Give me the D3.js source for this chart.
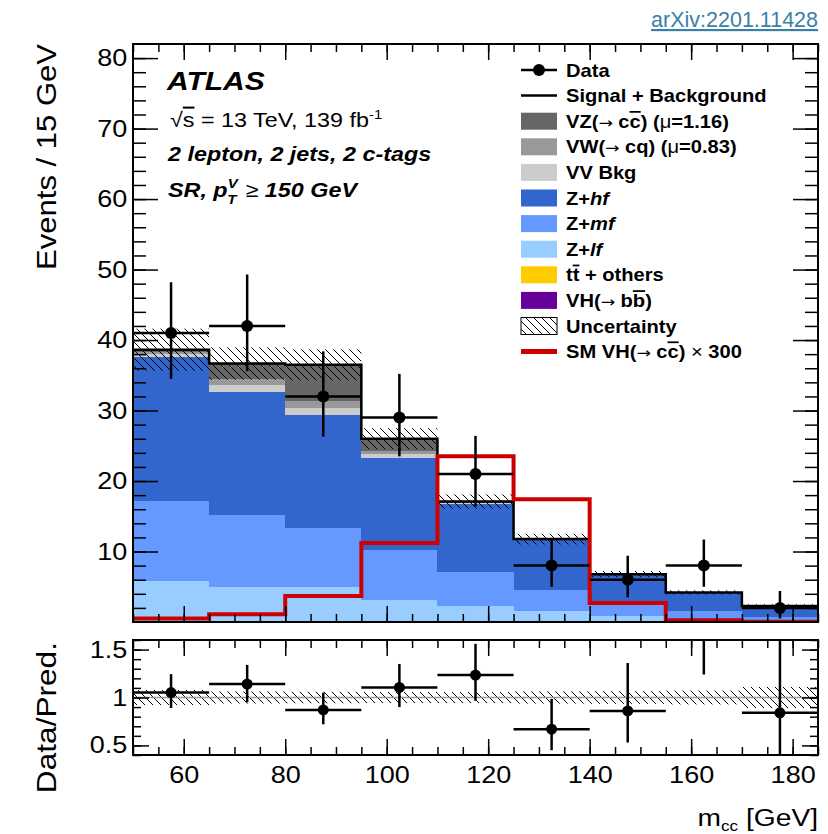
<!DOCTYPE html>
<html>
<head>
<meta charset="utf-8">
<script src="https://cdn.jsdelivr.net/npm/d3@7"></script>
<style>
  body { margin: 0; background: #fff; }
  svg { display: block; }
</style>
</head>
<body>
<div id="chart"></div>
<script>
// bin edges in m_cc [GeV]
const binEdges = [50, 65, 80, 95, 110, 125, 140, 155, 170, 185];

// observed data and its error bars (Events / 15 GeV)
const dataVals = [41, 42, 32, 29, 21, 8, 6, 8, 2];
const dataLow = [34.5, 35.6, 26.3, 23.5, 16.4, 5.0, 3.5, 5.0, 0.5];
const dataHigh = [48.2, 49.3, 38.4, 35.2, 26.4, 11.7, 9.4, 11.7, 4.4];

// stacked backgrounds, bottom to top
const ttOthers = [0.15, 0.1, 0.1, 0.1, 0.05, 0.05, 0.05, 0.05, 0.05];
const zlf = [5.65, 4.9, 4.8, 3.0, 2.15, 1.45, 0.8, 0.35, 0.15];
const zmf = [11.4, 10.2, 8.4, 7.1, 4.9, 3.0, 1.55, 1.2, 0.55];
const zhf = [20.4, 17.5, 16.0, 13.1, 9.7, 7.1, 4.3, 2.5, 1.4];
const vvBkg = [0.4, 0.95, 1.1, 0.5, 0.05, 0.03, 0.02, 0.02, 0.02];
const vwcq = [0.3, 0.8, 0.95, 0.4, 0.05, 0.03, 0.02, 0.02, 0.02];
const vzcc = [0.3, 2.2, 5.1, 1.7, 0.1, 0.05, 0.03, 0.03, 0.05];
const vhbb = [0.02, 0.02, 0.03, 0.1, 0.1, 0.05, 0.02, 0.02, 0.02];

// total uncertainty on the prediction
const predUnc = [3.0, 2.3, 2.2, 1.5, 1.0, 0.75, 0.45, 0.3, 0.25];

// SM VH(cc) x 300 overlay
const smVHcc = [0.5, 1.1, 3.7, 11.2, 23.5, 17.4, 2.7, 0.25, 0.05];

// ratio panel points
const ratioVals = [1.052, 1.14, 0.87, 1.105, 1.234, 0.67, 0.86, 1.9, 0.84];
const ratioLow = [0.89, 0.95, 0.72, 0.90, 0.965, 0.45, 0.53, 1.24, 0.2];
const ratioHigh = [1.244, 1.34, 1.05, 1.35, 1.56, 0.985, 1.36, 2.8, 1.9];

const yTicksMain = [10, 20, 30, 40, 50, 60, 70, 80];
const xTicks = [60, 80, 100, 120, 140, 160, 180];
const yTicksRatio = [0.5, 1, 1.5];

const W = 828, H = 834;
const FONT = "'Liberation Sans', Arial, Helvetica, sans-serif";
const SX = 1.15; // glyphs in the original are a bit wider than Arial

const keys = ["tt", "zlf", "zmf", "zhf", "vv", "vw", "vz", "vhbb"];
const colors = {
  tt: "#ffcc00", zlf: "#99ccff", zmf: "#6699ff", zhf: "#3366cc",
  vv: "#cccccc", vw: "#999999", vz: "#666666", vhbb: "#660099"
};

const table = binEdges.slice(0, -1).map((e, i) => ({
  lo: e, hi: binEdges[i + 1],
  tt: ttOthers[i], zlf: zlf[i], zmf: zmf[i], zhf: zhf[i],
  vv: vvBkg[i], vw: vwcq[i], vz: vzcc[i], vhbb: vhbb[i]
}));
const totals = table.map(d => keys.reduce((s, k) => s + d[k], 0));

const x = d3.scaleLinear().domain([50, 185]).range([133, 818]);
const y = d3.scaleLinear().domain([0, 82]).range([622, 44]);
const yr = d3.scaleLinear().domain([0.4, 1.6]).range([755, 640]);

const svg = d3.select("#chart").append("svg")
  .attr("width", W).attr("height", H)
  .attr("font-family", FONT);

const defs = svg.append("defs");
defs.append("pattern")
  .attr("id", "hatch")
  .attr("patternUnits", "userSpaceOnUse")
  .attr("width", 8).attr("height", 8)
  .append("path")
  .attr("d", "M0,0 L8,8 M-2,6 L2,10 M6,-2 L10,2")
  .attr("stroke", "#000").attr("stroke-width", 1);
defs.append("clipPath").attr("id", "clipMain")
  .append("rect").attr("x", 133).attr("y", 44).attr("width", 685).attr("height", 578);
defs.append("clipPath").attr("id", "clipRatio")
  .append("rect").attr("x", 133).attr("y", 640).attr("width", 685).attr("height", 115);

function addText(sel, px, py, size, opts = {}) {
  let tr = `translate(${px},${py})`;
  if (opts.rotate) tr += ` rotate(${opts.rotate})`;
  tr += ` scale(${opts.sx || SX},1)`;
  return sel.append("text")
    .attr("transform", tr)
    .attr("font-size", size)
    .attr("text-anchor", opts.anchor || "start")
    .attr("font-weight", opts.weight || "normal")
    .attr("font-style", opts.style || "normal")
    .attr("fill", opts.fill || "#000");
}

function addSegments(t, segs) {
  segs.forEach(s => {
    const ts = t.append("tspan").text(s.t);
    if (s.w) ts.attr("font-weight", s.w);
    if (s.i) ts.attr("font-style", "italic");
    if (s.n) ts.attr("font-style", "normal");
    if (s.over) ts.style("text-decoration", "overline");
    if (s.size) ts.attr("font-size", s.size);
    if (s.dy) ts.attr("dy", s.dy);
    if (s.dx) ts.attr("dx", s.dx);
    if (s.f) ts.attr("font-family", s.f);
  });
}

// ---------------- main panel ----------------
const main = svg.append("g").attr("clip-path", "url(#clipMain)");

const series = d3.stack().keys(keys)(table);
main.selectAll(".layer")
  .data(series)
  .enter()
  .append("g")
  .attr("class", "layer")
  .attr("fill", d => colors[d.key])
  .selectAll("rect")
  .data(d => d)
  .enter()
  .append("rect")
  .attr("shape-rendering", "crispEdges")
  .attr("x", d => x(d.data.lo))
  .attr("width", d => x(d.data.hi) - x(d.data.lo))
  .attr("y", d => y(d[1]))
  .attr("height", d => y(d[0]) - y(d[1]));

// uncertainty band
main.selectAll(".unc")
  .data(table)
  .enter()
  .append("rect")
  .attr("class", "unc")
  .attr("fill", "url(#hatch)")
  .attr("x", d => x(d.lo))
  .attr("width", d => x(d.hi) - x(d.lo))
  .attr("y", (d, i) => y(totals[i] + predUnc[i]))
  .attr("height", (d, i) => y(totals[i] - predUnc[i]) - y(totals[i] + predUnc[i]));

function stepPoints(vals) {
  const pts = [];
  vals.forEach((v, i) => {
    pts.push([x(binEdges[i]), y(v)]);
    pts.push([x(binEdges[i + 1]), y(v)]);
  });
  return pts;
}

// signal + background outline
main.append("path")
  .attr("d", d3.line()(stepPoints(totals)))
  .attr("fill", "none")
  .attr("stroke", "#000")
  .attr("stroke-width", 2.5);

// SM VH(cc) x 300
main.append("path")
  .attr("d", d3.line()(stepPoints(smVHcc)))
  .attr("fill", "none")
  .attr("stroke", "#cc0000")
  .attr("stroke-width", 4);

// data points
const pts = main.selectAll(".pt")
  .data(dataVals)
  .enter()
  .append("g")
  .attr("class", "pt");
pts.append("line")
  .attr("x1", (d, i) => x(binEdges[i]))
  .attr("x2", (d, i) => x(binEdges[i + 1]))
  .attr("y1", d => y(d)).attr("y2", d => y(d))
  .attr("stroke", "#000").attr("stroke-width", 2.5);
pts.append("line")
  .attr("x1", (d, i) => x((binEdges[i] + binEdges[i + 1]) / 2))
  .attr("x2", (d, i) => x((binEdges[i] + binEdges[i + 1]) / 2))
  .attr("y1", (d, i) => y(dataLow[i]))
  .attr("y2", (d, i) => y(dataHigh[i]))
  .attr("stroke", "#000").attr("stroke-width", 2.5);
pts.append("circle")
  .attr("cx", (d, i) => x((binEdges[i] + binEdges[i + 1]) / 2))
  .attr("cy", d => y(d))
  .attr("r", 6)
  .attr("fill", "#000");

// ---------------- ratio panel ----------------
const ratio = svg.append("g").attr("clip-path", "url(#clipRatio)");

ratio.selectAll(".runc")
  .data(table)
  .enter()
  .append("rect")
  .attr("fill", "url(#hatch)")
  .attr("x", d => x(d.lo))
  .attr("width", d => x(d.hi) - x(d.lo))
  .attr("y", (d, i) => yr(1 + predUnc[i] / totals[i]))
  .attr("height", (d, i) => yr(1 - predUnc[i] / totals[i]) - yr(1 + predUnc[i] / totals[i]));

ratio.append("line")
  .attr("x1", x(50)).attr("x2", x(185))
  .attr("y1", yr(1)).attr("y2", yr(1))
  .attr("stroke", "#999").attr("stroke-width", 1.5);

const rpts = ratio.selectAll(".rpt")
  .data(ratioVals)
  .enter()
  .append("g");
rpts.append("line")
  .attr("x1", (d, i) => x(binEdges[i]))
  .attr("x2", (d, i) => x(binEdges[i + 1]))
  .attr("y1", d => yr(d)).attr("y2", d => yr(d))
  .attr("stroke", "#000").attr("stroke-width", 2.5);
rpts.append("line")
  .attr("x1", (d, i) => x((binEdges[i] + binEdges[i + 1]) / 2))
  .attr("x2", (d, i) => x((binEdges[i] + binEdges[i + 1]) / 2))
  .attr("y1", (d, i) => yr(ratioLow[i]))
  .attr("y2", (d, i) => yr(ratioHigh[i]))
  .attr("stroke", "#000").attr("stroke-width", 2.5);
rpts.append("circle")
  .attr("cx", (d, i) => x((binEdges[i] + binEdges[i + 1]) / 2))
  .attr("cy", d => yr(d))
  .attr("r", 5.5)
  .attr("fill", "#000");

// ---------------- axes & frames ----------------
function tickAxis(axis, transform, size, values, labels) {
  const g = svg.append("g")
    .attr("transform", transform)
    .call(axis.tickValues(values).tickSize(size).tickSizeOuter(0)
      .tickFormat(labels ? d3.format("") : ""));
  g.select(".domain").remove();
  g.selectAll("line").attr("stroke", "#000").attr("stroke-width", 1.5);
  g.selectAll("text")
    .attr("font-size", 23.5)
    .attr("font-family", FONT)
    .attr("fill", "#000")
    .attr("transform", `scale(${SX},1)`);
  return g;
}

const xMinor = d3.range(50, 186, 5);
// main panel ticks
tickAxis(d3.axisLeft(y), "translate(133,0)", -13, d3.range(2, 82, 2), false);
tickAxis(d3.axisLeft(y), "translate(133,0)", -25, yTicksMain, true).call(g => g.selectAll("text").attr("x", -5));
tickAxis(d3.axisRight(y), "translate(818,0)", -13, d3.range(2, 82, 2), false);
tickAxis(d3.axisRight(y), "translate(818,0)", -25, yTicksMain, false);
tickAxis(d3.axisTop(x), "translate(0,44)", -8, xMinor, false);
tickAxis(d3.axisTop(x), "translate(0,44)", -16, xTicks, false);
tickAxis(d3.axisBottom(x), "translate(0,622)", -8, xMinor, false);
tickAxis(d3.axisBottom(x), "translate(0,622)", -16, xTicks, false);

// ratio panel ticks
const rMinor = d3.range(0.4, 1.61, 0.1).map(v => +v.toFixed(2));
tickAxis(d3.axisLeft(yr), "translate(133,0)", -8, rMinor, false);
tickAxis(d3.axisLeft(yr), "translate(133,0)", -16, yTicksRatio, true)
  .call(g => g.selectAll("text").attr("x", -5).text(d => d === 1 ? "1" : d));
tickAxis(d3.axisRight(yr), "translate(818,0)", -8, rMinor, false);
tickAxis(d3.axisRight(yr), "translate(818,0)", -16, yTicksRatio, false);
tickAxis(d3.axisTop(x), "translate(0,640)", -8, xMinor, false);
tickAxis(d3.axisTop(x), "translate(0,640)", -16, xTicks, false);
tickAxis(d3.axisBottom(x), "translate(0,755)", -8, xMinor, false);
tickAxis(d3.axisBottom(x), "translate(0,755)", -16, xTicks, true)
  .call(g => g.selectAll("text").attr("y", 11));

svg.append("rect")
  .attr("x", 133).attr("y", 44).attr("width", 685).attr("height", 578)
  .attr("fill", "none").attr("stroke", "#000").attr("stroke-width", 2);
svg.append("rect")
  .attr("x", 133).attr("y", 640).attr("width", 685).attr("height", 115)
  .attr("fill", "none").attr("stroke", "#000").attr("stroke-width", 2);

// axis titles
addText(svg, 56, 44, 27, { rotate: -90, anchor: "end" }).text("Events / 15 GeV");
addText(svg, 56, 642, 27.5, { rotate: -90, anchor: "end" }).text("Data/Pred.");
const xt = addText(svg, 818, 826, 24.5, { anchor: "end" });
addSegments(xt, [{ t: "m" }, { t: "cc", size: 15, dy: 5 }, { t: " [GeV]", size: 24.5, dy: -5 }]);

// arXiv reference
svg.append("text")
  .attr("x", 818).attr("y", 27)
  .attr("text-anchor", "end")
  .attr("font-size", 21.5)
  .attr("fill", "#3a7fa6")
  .style("text-decoration", "underline")
  .text("arXiv:2201.11428");

// ATLAS labels
addText(svg, 167, 90, 25, { weight: "bold", style: "italic", sx: 1.2 }).text("ATLAS");
const ecm = addText(svg, 170, 127, 20.3);
addSegments(ecm, [{ t: "√" }, { t: "s", over: true }, { t: " = 13 TeV, 139 fb" }, { t: "-1", size: 13, dy: -8 }]);
addText(svg, 168, 161, 20.3, { weight: "bold", style: "italic" }).text("2 lepton, 2 jets, 2 c-tags");
const sr = addText(svg, 168, 197, 20.3, { weight: "bold", style: "italic" });
addSegments(sr, [
  { t: "SR, p" }, { t: "V", size: 13, dy: -9 }, { t: "T", size: 13, dx: -9, dy: 16 },
  { t: "≥", size: 20.3, dy: -7, dx: 8, w: "normal", n: true }, { t: " 150 GeV", size: 20.3 }
]);

// ---------------- legend ----------------
const legY0 = 70, legDy = 25.6, swX = 521, swW = 36, txX = 566;
const ARROW = { t: "→ ", w: "normal", f: "'DejaVu Sans', sans-serif", size: 15 };
const legend = [
  { type: "data", segs: [{ t: "Data" }] },
  { type: "line", color: "#000", width: 2.5, segs: [{ t: "Signal + Background" }] },
  { type: "box", color: colors.vz, segs: [{ t: "VZ(" }, ARROW, { t: "c" }, { t: "c", over: true }, { t: ") (" }, { t: "μ", w: "normal" }, { t: "=1.16)" }] },
  { type: "box", color: colors.vw, segs: [{ t: "VW(" }, ARROW, { t: "cq) (" }, { t: "μ", w: "normal" }, { t: "=0.83)" }] },
  { type: "box", color: colors.vv, segs: [{ t: "VV Bkg" }] },
  { type: "box", color: colors.zhf, segs: [{ t: "Z+" }, { t: "hf", i: true }] },
  { type: "box", color: colors.zmf, segs: [{ t: "Z+" }, { t: "mf", i: true }] },
  { type: "box", color: colors.zlf, segs: [{ t: "Z+" }, { t: "lf", i: true }] },
  { type: "box", color: colors.tt, segs: [{ t: "t" }, { t: "t", over: true }, { t: " + others" }] },
  { type: "box", color: colors.vhbb, segs: [{ t: "VH(" }, ARROW, { t: "b" }, { t: "b", over: true }, { t: ")" }] },
  { type: "hatch", segs: [{ t: "Uncertainty" }] },
  { type: "line", color: "#cc0000", width: 5, segs: [{ t: "SM VH(" }, ARROW, { t: "c" }, { t: "c", over: true }, { t: ") " }, { t: "×", w: "normal" }, { t: " 300" }] }
];

legend.forEach((e, i) => {
  const cy = legY0 + i * legDy;
  if (e.type === "data") {
    svg.append("line").attr("x1", swX).attr("x2", swX + swW).attr("y1", cy).attr("y2", cy)
      .attr("stroke", "#000").attr("stroke-width", 2.5);
    svg.append("circle").attr("cx", swX + swW / 2).attr("cy", cy).attr("r", 6).attr("fill", "#000");
  } else if (e.type === "line") {
    svg.append("line").attr("x1", swX).attr("x2", swX + swW).attr("y1", cy).attr("y2", cy)
      .attr("stroke", e.color).attr("stroke-width", e.width);
  } else if (e.type === "box") {
    svg.append("rect").attr("x", swX).attr("y", cy - 8.5).attr("width", swW).attr("height", 17)
      .attr("fill", e.color);
  } else if (e.type === "hatch") {
    svg.append("rect").attr("x", swX).attr("y", cy - 8.5).attr("width", swW).attr("height", 17)
      .attr("fill", "url(#hatch)").attr("stroke", "#000").attr("stroke-width", 1);
  }
  const t = addText(svg, txX, cy + 6.5, 17.5, { weight: "bold" });
  addSegments(t, e.segs);
  // keep following segments at the regular legend size after the arrow
  t.selectAll("tspan").filter(function () { return !this.getAttribute("font-size"); }).attr("font-size", 17.5);
});
</script>
</body>
</html>
